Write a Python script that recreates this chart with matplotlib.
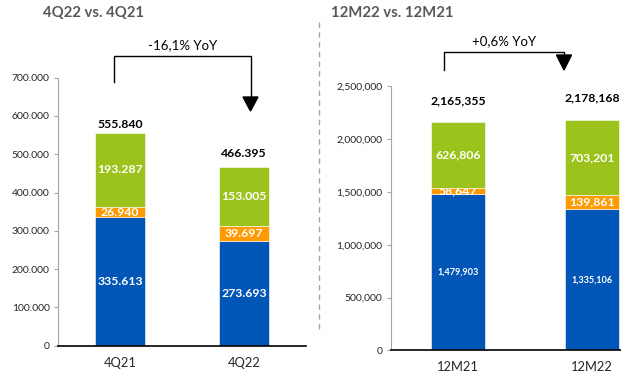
import matplotlib
matplotlib.use("Agg")
import matplotlib.pyplot as plt
from matplotlib.lines import Line2D
from matplotlib.patches import Polygon

plt.rcParams['font.family'] = ['Lato', 'DejaVu Sans']

# quarterly figures
q_cats = ["4Q21", "4Q22"]
q_blue = [335613, 273693]
q_orange = [26940, 39697]
q_green = [193287, 153005]
q_total = [555840, 466395]
q_ticks = [0, 100000, 200000, 300000, 400000, 500000, 600000, 700000]

# full-year figures
y_cats = ["12M21", "12M22"]
y_blue = [1479903, 1335106]
y_orange = [58647, 139861]
y_green = [626806, 703201]
y_total = [2165355, 2178168]
y_ticks = [0, 500000, 1000000, 1500000, 2000000, 2500000]

BLUE = "#0056B6"
ORANGE = "#FF9A00"
GREEN = "#9CC31B"
GREY = "#595959"

W, H = 621, 377
fig = plt.figure(figsize=(W / 100, H / 100), dpi=100)


def px(x, y):
    return x / W, 1 - y / H


def fmt_dot(v):
    return f"{v:,}".replace(",", ".")


def fmt_comma(v):
    return f"{v:,}"


def stacked(ax, cats, blue, orange, green, total, ticks, fmt, blue_size, tot_off):
    x = range(len(cats))
    ax.bar(x, blue, 0.4, color=BLUE, edgecolor="white", linewidth=0.4, zorder=1)
    ax.bar(x, orange, 0.4, bottom=blue, color=ORANGE, edgecolor="white", linewidth=0.4, zorder=1)
    base = [b + o for b, o in zip(blue, orange)]
    # green drawn over the orange labels, so a thin orange slice hides part of its label
    ax.bar(x, green, 0.4, bottom=base, color=GREEN, edgecolor="white", linewidth=0.4, zorder=3)
    for i in x:
        ax.text(i, blue[i] / 2, fmt(blue[i]), ha="center", va="center", color="white",
                fontsize=blue_size, fontweight="bold", zorder=4)
        ax.text(i, blue[i] + orange[i] / 2, fmt(orange[i]), ha="center", va="center",
                color="white", fontsize=8.8, fontweight="bold", zorder=2)
        ax.text(i, base[i] + green[i] / 2, fmt(green[i]), ha="center", va="center",
                color="white", fontsize=8.8, fontweight="bold", zorder=4)
        ax.annotate(fmt(total[i]), (i, total[i]), xytext=(0, tot_off[i]),
                    textcoords="offset points", ha="center", va="center",
                    fontsize=8.8, fontweight="bold", color="black", annotation_clip=False)
    ax.set_xlim(-0.5, len(cats) - 0.5)
    ax.set_ylim(0, ticks[-1])
    ax.set_yticks(ticks)
    ax.set_yticklabels([fmt(t) for t in ticks])
    ax.set_xticks(list(x))
    ax.set_xticklabels(cats)
    ax.spines["top"].set_visible(False)
    ax.spines["right"].set_visible(False)
    ax.spines["left"].set_color("#A6A6A6")
    ax.spines["bottom"].set_color("black")
    ax.spines["bottom"].set_linewidth(1.2)
    ax.spines["bottom"].set_zorder(5)
    ax.tick_params(axis="y", length=3, color="#A6A6A6", labelsize=7.5, labelcolor="#262626", pad=3)
    ax.tick_params(axis="x", length=0, labelsize=9.3, labelcolor="#262626", pad=8)


ax1 = fig.add_axes([58 / W, 1 - 345.7 / H, 248 / W, (345.7 - 77.7) / H])
stacked(ax1, q_cats, q_blue, q_orange, q_green, q_total, q_ticks, fmt_dot, 8.8, [6, 10])

ax2 = fig.add_axes([391 / W, 1 - 350.3 / H, 268 / W, (350.3 - 86.3) / H])
stacked(ax2, y_cats, y_blue, y_orange, y_green, y_total, y_ticks, fmt_comma, 6.6, [15, 16])

# titles
fig.text(*px(43, 13), "4Q22 vs. 4Q21", ha="left", va="center", fontsize=10.7,
         fontweight="bold", color=GREY)
fig.text(*px(331, 13), "12M22 vs. 12M21", ha="left", va="center", fontsize=10.7,
         fontweight="bold", color=GREY)

# dashed separator
fig.add_artist(Line2D([px(319.5, 0)[0]] * 2, [px(0, 22)[1], px(0, 330)[1]],
                      color="#A6A6A6", linewidth=1, linestyle=(0, (4, 3))))


def yoy_arrow(x0, x1, top, left_bottom, head_top, head_bottom, label, label_y):
    pts = [px(x0, left_bottom), px(x0, top), px(x1, top), px(x1, head_top)]
    fig.add_artist(Line2D([p[0] for p in pts], [p[1] for p in pts], color="black", linewidth=1))
    tri = [px(x1 - 7.5, head_top), px(x1 + 7.5, head_top), px(x1, head_bottom)]
    fig.add_artist(Polygon(tri, closed=True, color="black"))
    fig.text(*px((x0 + x1) / 2, label_y), label, ha="center", va="center", fontsize=9.5)


yoy_arrow(114, 250.5, 56, 82, 97, 111, "-16,1% YoY", 45)
yoy_arrow(444, 564, 52, 70, 55, 70, "+0,6% YoY", 41.5)

fig.savefig("out.png", dpi=100)
